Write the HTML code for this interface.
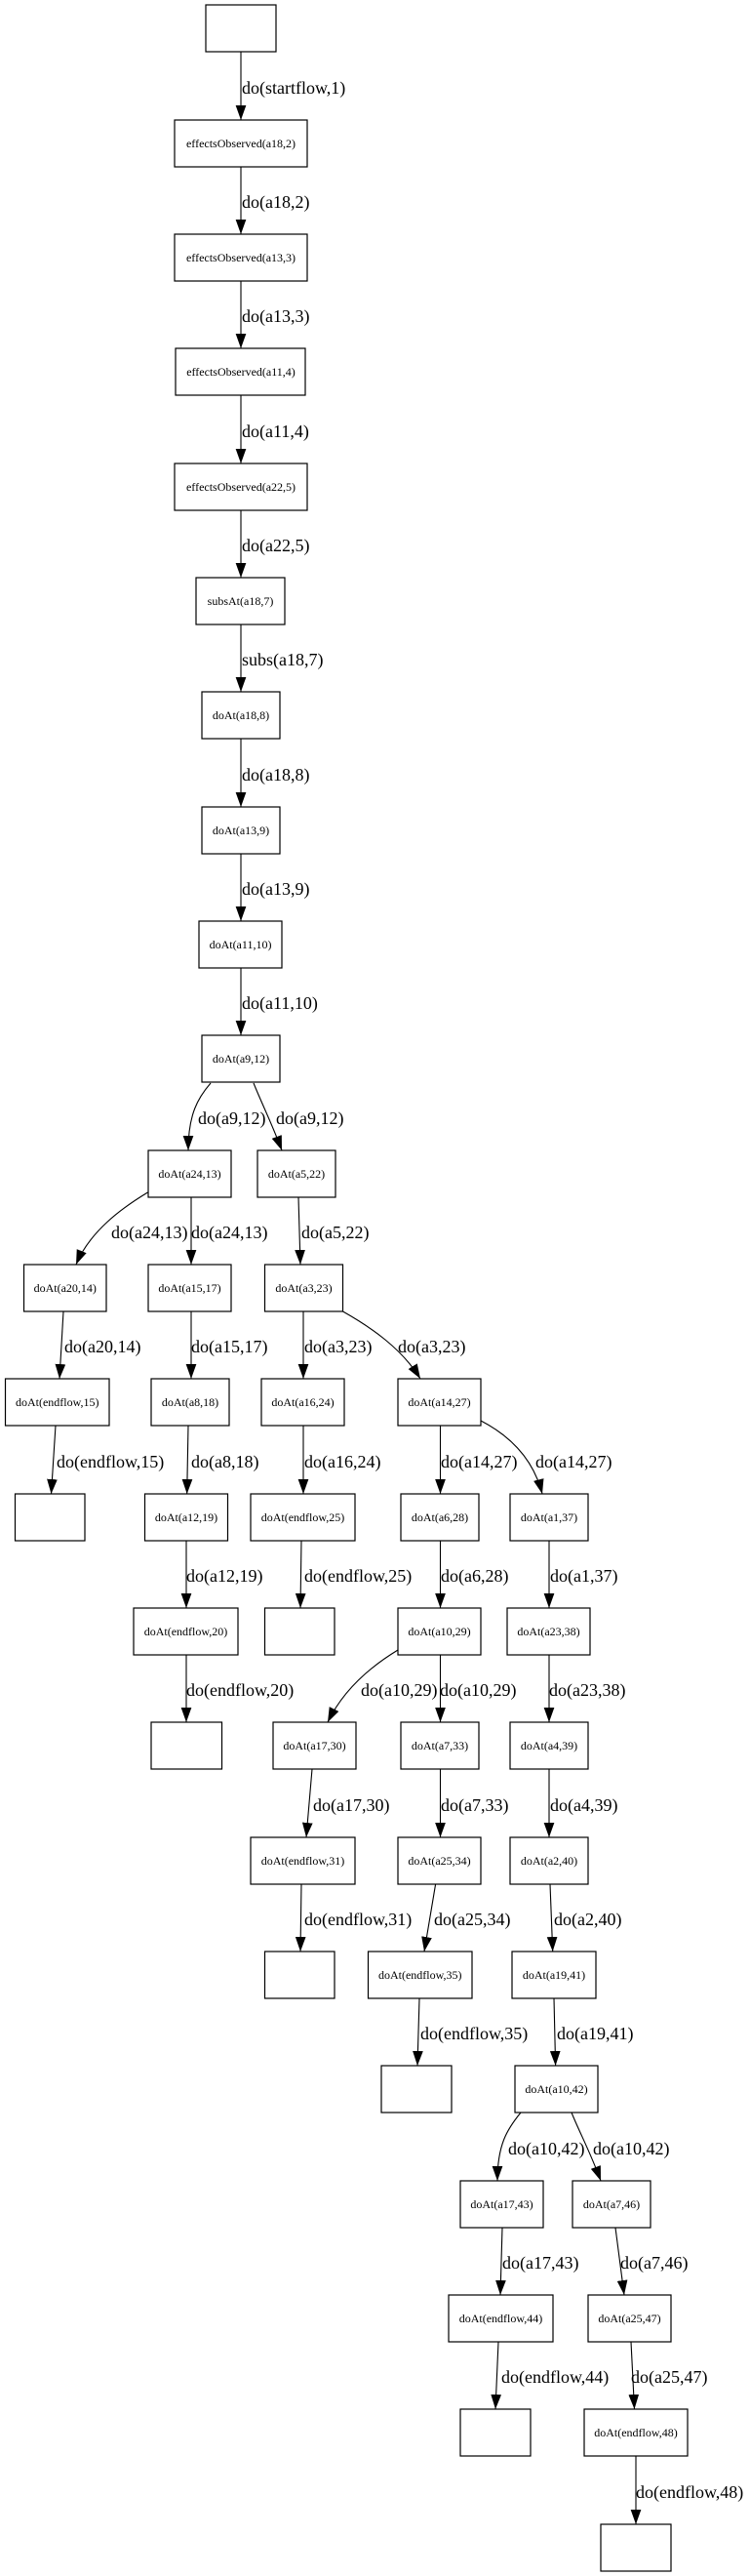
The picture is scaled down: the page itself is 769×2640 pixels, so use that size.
<!DOCTYPE html>
<html>
<head>
<meta charset="utf-8">
<style>
  html, body { margin: 0; padding: 0; background: #fff; }
  svg { display: block; }
  .n { fill: #fff; stroke: #000; stroke-width: 1.2; }
  .e { fill: none; stroke: #000; stroke-width: 1.1; }
  .nl { font-family: "Liberation Serif", serif; font-size: 12px; text-anchor: middle; fill: #000; }
  .el { font-family: "Liberation Serif", serif; font-size: 18px; fill: #000; }
</style>
</head>
<body>
<svg width="769" height="2640" viewBox="0 0 769 2640" xmlns="http://www.w3.org/2000/svg">
<defs>
  <marker id="ah" markerUnits="userSpaceOnUse" markerWidth="15" markerHeight="11" viewBox="0 0 14 10" refX="14" refY="5" orient="auto">
    <path d="M0,0 L14,5 L0,10 z" fill="#000"/>
  </marker>
</defs>

<!-- Nodes -->
<g>
  <rect class="n" x="211" y="5" width="72" height="48"/>

  <rect class="n" x="179" y="123" width="136" height="48"/>
  <text class="nl" x="247" y="151">effectsObserved(a18,2)</text>

  <rect class="n" x="179" y="240" width="136" height="48"/>
  <text class="nl" x="247" y="268">effectsObserved(a13,3)</text>

  <rect class="n" x="180" y="357" width="133" height="48"/>
  <text class="nl" x="247" y="385">effectsObserved(a11,4)</text>

  <rect class="n" x="179" y="475" width="136" height="48"/>
  <text class="nl" x="247" y="503">effectsObserved(a22,5)</text>

  <rect class="n" x="201" y="592" width="91" height="48"/>
  <text class="nl" x="246.5" y="620">subsAt(a18,7)</text>

  <rect class="n" x="207" y="709" width="80" height="48"/>
  <text class="nl" x="247" y="737">doAt(a18,8)</text>

  <rect class="n" x="207" y="827" width="80" height="48"/>
  <text class="nl" x="247" y="855">doAt(a13,9)</text>

  <rect class="n" x="204" y="944" width="85" height="48"/>
  <text class="nl" x="246.5" y="972">doAt(a11,10)</text>

  <rect class="n" x="207" y="1061" width="80" height="48"/>
  <text class="nl" x="247" y="1089">doAt(a9,12)</text>

  <!-- row 10 -->
  <rect class="n" x="152" y="1179" width="85" height="48"/>
  <text class="nl" x="194.5" y="1207">doAt(a24,13)</text>
  <rect class="n" x="264" y="1179" width="80" height="48"/>
  <text class="nl" x="304" y="1207">doAt(a5,22)</text>

  <!-- row 11 -->
  <rect class="n" x="24.5" y="1296" width="84.5" height="48"/>
  <text class="nl" x="66.75" y="1324">doAt(a20,14)</text>
  <rect class="n" x="152" y="1296" width="85" height="48"/>
  <text class="nl" x="194.5" y="1324">doAt(a15,17)</text>
  <rect class="n" x="271.5" y="1296" width="80" height="48"/>
  <text class="nl" x="311.5" y="1324">doAt(a3,23)</text>

  <!-- row 12 -->
  <rect class="n" x="5.5" y="1413" width="106.5" height="48"/>
  <text class="nl" x="58.75" y="1441">doAt(endflow,15)</text>
  <rect class="n" x="155" y="1413" width="80" height="48"/>
  <text class="nl" x="195" y="1441">doAt(a8,18)</text>
  <rect class="n" x="268" y="1413" width="85" height="48"/>
  <text class="nl" x="310.5" y="1441">doAt(a16,24)</text>
  <rect class="n" x="408" y="1413" width="85" height="48"/>
  <text class="nl" x="450.5" y="1441">doAt(a14,27)</text>

  <!-- row 13 -->
  <rect class="n" x="15.5" y="1531" width="71.5" height="48"/>
  <rect class="n" x="148.5" y="1531" width="85" height="48"/>
  <text class="nl" x="191" y="1559">doAt(a12,19)</text>
  <rect class="n" x="257" y="1531" width="107" height="48"/>
  <text class="nl" x="310.5" y="1559">doAt(endflow,25)</text>
  <rect class="n" x="411" y="1531" width="80" height="48"/>
  <text class="nl" x="451" y="1559">doAt(a6,28)</text>
  <rect class="n" x="523" y="1531" width="80" height="48"/>
  <text class="nl" x="563" y="1559">doAt(a1,37)</text>

  <!-- row 14 -->
  <rect class="n" x="137" y="1648" width="107" height="48"/>
  <text class="nl" x="190.5" y="1676">doAt(endflow,20)</text>
  <rect class="n" x="271.5" y="1648" width="71.5" height="48"/>
  <rect class="n" x="408" y="1648" width="85" height="48"/>
  <text class="nl" x="450.5" y="1676">doAt(a10,29)</text>
  <rect class="n" x="520" y="1648" width="85" height="48"/>
  <text class="nl" x="562.5" y="1676">doAt(a23,38)</text>

  <!-- row 15 -->
  <rect class="n" x="155" y="1765" width="72.5" height="48"/>
  <rect class="n" x="280" y="1765" width="85" height="48"/>
  <text class="nl" x="322.5" y="1793">doAt(a17,30)</text>
  <rect class="n" x="411" y="1765" width="80" height="48"/>
  <text class="nl" x="451" y="1793">doAt(a7,33)</text>
  <rect class="n" x="523" y="1765" width="80" height="48"/>
  <text class="nl" x="563" y="1793">doAt(a4,39)</text>

  <!-- row 16 -->
  <rect class="n" x="257" y="1883" width="107" height="48"/>
  <text class="nl" x="310.5" y="1911">doAt(endflow,31)</text>
  <rect class="n" x="408" y="1883" width="85" height="48"/>
  <text class="nl" x="450.5" y="1911">doAt(a25,34)</text>
  <rect class="n" x="523" y="1883" width="80" height="48"/>
  <text class="nl" x="563" y="1911">doAt(a2,40)</text>

  <!-- row 17 -->
  <rect class="n" x="271.5" y="2000" width="71.5" height="48"/>
  <rect class="n" x="377.5" y="2000" width="106.5" height="48"/>
  <text class="nl" x="430.75" y="2028">doAt(endflow,35)</text>
  <rect class="n" x="525" y="2000" width="86" height="48"/>
  <text class="nl" x="568" y="2028">doAt(a19,41)</text>

  <!-- row 18 -->
  <rect class="n" x="391" y="2117" width="72" height="48"/>
  <rect class="n" x="528" y="2117" width="85" height="48"/>
  <text class="nl" x="570.5" y="2145">doAt(a10,42)</text>

  <!-- row 19 -->
  <rect class="n" x="472" y="2235" width="85" height="48"/>
  <text class="nl" x="514.5" y="2263">doAt(a17,43)</text>
  <rect class="n" x="587" y="2235" width="80" height="48"/>
  <text class="nl" x="627" y="2263">doAt(a7,46)</text>

  <!-- row 20 -->
  <rect class="n" x="460" y="2352" width="107" height="48"/>
  <text class="nl" x="513.5" y="2380">doAt(endflow,44)</text>
  <rect class="n" x="603" y="2352" width="85" height="48"/>
  <text class="nl" x="645.5" y="2380">doAt(a25,47)</text>

  <!-- row 21 -->
  <rect class="n" x="472" y="2469" width="72" height="48"/>
  <rect class="n" x="599" y="2469" width="106" height="48"/>
  <text class="nl" x="652" y="2497">doAt(endflow,48)</text>

  <!-- row 22 -->
  <rect class="n" x="616" y="2587" width="72" height="48"/>
</g>

<!-- Edges -->
<g marker-end="url(#ah)">
  <path class="e" marker-end="url(#ah)" d="M247,53 L247,123"/>
  <path class="e" marker-end="url(#ah)" d="M247,171 L247,240"/>
  <path class="e" marker-end="url(#ah)" d="M247,288 L247,357"/>
  <path class="e" marker-end="url(#ah)" d="M247,405 L247,475"/>
  <path class="e" marker-end="url(#ah)" d="M247,523 L247,592"/>
  <path class="e" marker-end="url(#ah)" d="M247,640 L247,709"/>
  <path class="e" marker-end="url(#ah)" d="M247,757 L247,827"/>
  <path class="e" marker-end="url(#ah)" d="M247,875 L247,944"/>
  <path class="e" marker-end="url(#ah)" d="M247,992 L247,1061"/>

  <path class="e" marker-end="url(#ah)" d="M216,1110 C203,1125 193,1142 193,1179"/>
  <path class="e" marker-end="url(#ah)" d="M260,1110 C268,1130 279,1152 289,1179"/>

  <path class="e" marker-end="url(#ah)" d="M151.5,1222 C125,1238 92,1262 78,1296"/>
  <path class="e" marker-end="url(#ah)" d="M196,1227 L196,1296"/>
  <path class="e" marker-end="url(#ah)" d="M306,1227 L308,1296"/>

  <path class="e" marker-end="url(#ah)" d="M65,1344 L61,1413"/>
  <path class="e" marker-end="url(#ah)" d="M196,1344 L196,1413"/>
  <path class="e" marker-end="url(#ah)" d="M311,1344 L311,1413"/>
  <path class="e" marker-end="url(#ah)" d="M351.5,1344 C380,1360 412,1382 431,1413"/>

  <path class="e" marker-end="url(#ah)" d="M57,1461 L52.5,1531"/>
  <path class="e" marker-end="url(#ah)" d="M193,1461 L191.7,1531"/>
  <path class="e" marker-end="url(#ah)" d="M311,1461 L311,1531"/>
  <path class="e" marker-end="url(#ah)" d="M451.5,1461 L451.5,1531"/>
  <path class="e" marker-end="url(#ah)" d="M493,1456 C520,1470 546,1492 556,1531"/>

  <path class="e" marker-end="url(#ah)" d="M191,1579 L191,1648"/>
  <path class="e" marker-end="url(#ah)" d="M309,1579 L308,1648"/>
  <path class="e" marker-end="url(#ah)" d="M451.5,1579 L451.5,1648"/>
  <path class="e" marker-end="url(#ah)" d="M563,1579 L563,1648"/>

  <path class="e" marker-end="url(#ah)" d="M191,1696 L191,1765"/>
  <path class="e" marker-end="url(#ah)" d="M408,1691 C380,1708 352,1732 336,1765"/>
  <path class="e" marker-end="url(#ah)" d="M451.5,1696 L451.5,1765"/>
  <path class="e" marker-end="url(#ah)" d="M563,1696 L563,1765"/>

  <path class="e" marker-end="url(#ah)" d="M320,1813 L314,1883"/>
  <path class="e" marker-end="url(#ah)" d="M451.5,1813 L451.5,1883"/>
  <path class="e" marker-end="url(#ah)" d="M563,1813 L563,1883"/>

  <path class="e" marker-end="url(#ah)" d="M309,1931 L308,2000"/>
  <path class="e" marker-end="url(#ah)" d="M446.6,1931 L435,2000"/>
  <path class="e" marker-end="url(#ah)" d="M564,1931 L566.7,2000"/>

  <path class="e" marker-end="url(#ah)" d="M430,2048 L428,2117"/>
  <path class="e" marker-end="url(#ah)" d="M568,2048 L569.6,2117"/>

  <path class="e" marker-end="url(#ah)" d="M534,2165 C520,2182 510,2198 510,2235"/>
  <path class="e" marker-end="url(#ah)" d="M586,2165 C594,2185 605,2205 616,2235"/>

  <path class="e" marker-end="url(#ah)" d="M515,2283 L513,2352"/>
  <path class="e" marker-end="url(#ah)" d="M631,2283 L640,2352"/>

  <path class="e" marker-end="url(#ah)" d="M511,2400 L508,2469"/>
  <path class="e" marker-end="url(#ah)" d="M647,2400 L650.5,2469"/>

  <path class="e" marker-end="url(#ah)" d="M652,2517 L652,2587"/>
</g>

<!-- Edge labels -->
<g>
  <text class="el" x="248" y="96">do(startflow,1)</text>
  <text class="el" x="248" y="213">do(a18,2)</text>
  <text class="el" x="248" y="330">do(a13,3)</text>
  <text class="el" x="248" y="448">do(a11,4)</text>
  <text class="el" x="248" y="565">do(a22,5)</text>
  <text class="el" x="248" y="682">subs(a18,7)</text>
  <text class="el" x="248" y="800">do(a18,8)</text>
  <text class="el" x="248" y="917">do(a13,9)</text>
  <text class="el" x="248" y="1034">do(a11,10)</text>

  <text class="el" x="203" y="1152">do(a9,12)</text>
  <text class="el" x="283" y="1152">do(a9,12)</text>

  <text class="el" x="114" y="1269">do(a24,13)</text>
  <text class="el" x="196" y="1269">do(a24,13)</text>
  <text class="el" x="309" y="1269">do(a5,22)</text>

  <text class="el" x="66" y="1386">do(a20,14)</text>
  <text class="el" x="196" y="1386">do(a15,17)</text>
  <text class="el" x="312" y="1386">do(a3,23)</text>
  <text class="el" x="408" y="1386">do(a3,23)</text>

  <text class="el" x="58" y="1504">do(endflow,15)</text>
  <text class="el" x="196" y="1504">do(a8,18)</text>
  <text class="el" x="312" y="1504">do(a16,24)</text>
  <text class="el" x="452" y="1504">do(a14,27)</text>
  <text class="el" x="549" y="1504">do(a14,27)</text>

  <text class="el" x="191" y="1621">do(a12,19)</text>
  <text class="el" x="312" y="1621">do(endflow,25)</text>
  <text class="el" x="452" y="1621">do(a6,28)</text>
  <text class="el" x="564" y="1621">do(a1,37)</text>

  <text class="el" x="191" y="1738">do(endflow,20)</text>
  <text class="el" x="370" y="1738">do(a10,29)</text>
  <text class="el" x="451" y="1738">do(a10,29)</text>
  <text class="el" x="563" y="1738">do(a23,38)</text>

  <text class="el" x="321" y="1856">do(a17,30)</text>
  <text class="el" x="452" y="1856">do(a7,33)</text>
  <text class="el" x="564" y="1856">do(a4,39)</text>

  <text class="el" x="312" y="1973">do(endflow,31)</text>
  <text class="el" x="445" y="1973">do(a25,34)</text>
  <text class="el" x="568" y="1973">do(a2,40)</text>

  <text class="el" x="431" y="2090">do(endflow,35)</text>
  <text class="el" x="571" y="2090">do(a19,41)</text>

  <text class="el" x="521" y="2208">do(a10,42)</text>
  <text class="el" x="608" y="2208">do(a10,42)</text>

  <text class="el" x="515" y="2325">do(a17,43)</text>
  <text class="el" x="636" y="2325">do(a7,46)</text>

  <text class="el" x="514" y="2442">do(endflow,44)</text>
  <text class="el" x="647" y="2442">do(a25,47)</text>

  <text class="el" x="652" y="2560">do(endflow,48)</text>
</g>
</svg>
</body>
</html>
